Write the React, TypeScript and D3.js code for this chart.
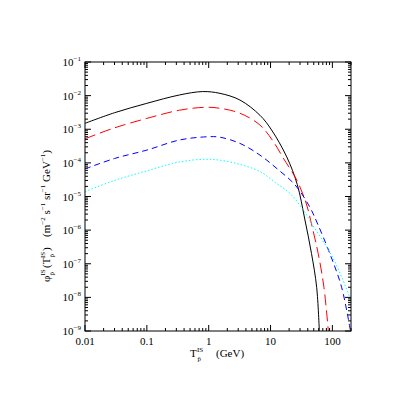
import React from "react";
import * as d3 from "d3";

// Energies (GeV) and flux values per curve
const blackE = [0.01, 0.03, 0.1, 0.34, 0.8, 1.52, 3.2, 6.75, 10.4, 18.3, 27, 36, 46, 55.7, 61.5];
const blackF = [1.5e-3, 3.1e-3, 5.9e-3, 1.05e-2, 1.32e-2, 1.17e-2, 7.4e-3, 2.6e-3, 9.5e-4, 1.5e-4, 2.3e-5, 2e-6, 2e-7, 2e-8, 1e-9];

const redE = [0.01, 0.03, 0.1, 0.34, 0.9, 1.52, 3.2, 6.75, 11.1, 16, 26.5, 38, 46, 59, 73, 86];
const redF = [5.2e-4, 1.1e-3, 2.1e-3, 3.7e-3, 4.5e-3, 4.2e-3, 3.0e-3, 1.33e-3, 4.3e-4, 1.4e-4, 3.1e-5, 6e-6, 1.5e-6, 2e-7, 2e-8, 1e-9];

const blueE = [0.01, 0.03, 0.1, 0.34, 1.0, 1.52, 3.2, 6.75, 13, 25, 43, 58, 91, 141, 196];
const blueF = [6.6e-5, 1.35e-4, 2.4e-4, 4.8e-4, 6e-4, 5.8e-4, 3.8e-4, 1.7e-4, 6.5e-5, 2.2e-5, 4.9e-6, 1.5e-6, 2e-7, 2e-8, 1e-9];

const cyanE = [0.01, 0.03, 0.1, 0.34, 0.9, 1.52, 3.2, 6.75, 12, 20.7, 33.8, 46, 100, 165, 200];
const cyanF = [1.4e-5, 3e-5, 5.8e-5, 1.07e-4, 1.28e-4, 1.2e-4, 9e-5, 5.5e-5, 2.6e-5, 1.23e-5, 4e-6, 1.6e-6, 1.6e-7, 2e-8, 8e-9];

const xTickVals = [0.01, 0.1, 1, 10, 100];
const xTickLabels = ["0.01", "0.1", "1", "10", "100"];
const yExps = [-9, -8, -7, -6, -5, -4, -3, -2, -1];

const W = 415, H = 415;
const L = 85, R = 351, T = 62, B = 331;
const FONT = "'Liberation Serif', 'Times New Roman', serif";

export default function App() {
  const x = d3.scaleLog().domain([0.01, 200]).range([L, R]);
  const y = d3.scaleLog().domain([1e-9, 1e-1]).range([B, T]);
  const line = d3
    .line<[number, number]>()
    .x((d) => x(d[0]))
    .y((d) => y(d[1]))
    .curve(d3.curveCatmullRom.alpha(0.5));

  const series = [
    { E: blackE, F: blackF, color: "#000", dash: "none" },
    { E: redE, F: redF, color: "#ff0000", dash: "11,5" },
    { E: blueE, F: blueF, color: "#0000ff", dash: "6,4" },
    { E: cyanE, F: cyanF, color: "#00ffff", dash: "1.5,2" },
  ];

  const xMinor: number[] = [];
  for (let e = -2; e <= 2; e++) {
    for (let m = 2; m <= 9; m++) {
      const v = m * Math.pow(10, e);
      if (v <= 200) xMinor.push(v);
    }
  }
  const yMinor: number[] = [];
  for (let e = -9; e < -1; e++) {
    for (let m = 2; m <= 9; m++) yMinor.push(m * Math.pow(10, e));
  }
  const maj = 6, min = 3;

  return (
    <div style={{ position: "absolute", left: 0, top: 0 }}>
      <svg width={W} height={H} style={{ display: "block", background: "#fff" }}>
        <defs>
          <clipPath id="plotclip">
            <rect x={L} y={T} width={R - L} height={B - T} />
          </clipPath>
        </defs>
        <g clipPath="url(#plotclip)">
          {series.map((s, i) => (
            <path
              key={i}
              d={line(s.E.map((e, j) => [e, s.F[j]] as [number, number])) || ""}
              fill="none"
              stroke={s.color}
              strokeWidth={1}
              strokeDasharray={s.dash}
            />
          ))}
        </g>
        <rect x={L} y={T} width={R - L} height={B - T} fill="none" stroke="#000" strokeWidth={1} />
        {xTickVals.map((v) => (
          <g key={"xt" + v}>
            <line x1={x(v)} x2={x(v)} y1={B} y2={B - maj} stroke="#000" />
            <line x1={x(v)} x2={x(v)} y1={T} y2={T + maj} stroke="#000" />
          </g>
        ))}
        {xMinor.map((v) => (
          <g key={"xm" + v}>
            <line x1={x(v)} x2={x(v)} y1={B} y2={B - min} stroke="#000" />
            <line x1={x(v)} x2={x(v)} y1={T} y2={T + min} stroke="#000" />
          </g>
        ))}
        {yExps.map((e) => (
          <g key={"yt" + e}>
            <line x1={L} x2={L + maj} y1={y(Math.pow(10, e))} y2={y(Math.pow(10, e))} stroke="#000" />
            <line x1={R} x2={R - maj} y1={y(Math.pow(10, e))} y2={y(Math.pow(10, e))} stroke="#000" />
          </g>
        ))}
        {yMinor.map((v) => (
          <g key={"ym" + v}>
            <line x1={L} x2={L + min} y1={y(v)} y2={y(v)} stroke="#000" />
            <line x1={R} x2={R - min} y1={y(v)} y2={y(v)} stroke="#000" />
          </g>
        ))}
        {xTickVals.map((v, i) => (
          <text key={"xl" + v} x={x(v)} y={B + 14} textAnchor="middle" fontFamily={FONT} fontSize={11} fill="#000">
            {xTickLabels[i]}
          </text>
        ))}
        {yExps.map((e) => (
          <text key={"yl" + e} x={L - 4} y={y(Math.pow(10, e)) + 4} textAnchor="end" fontFamily={FONT} fontSize={11} fill="#000">
            10
            <tspan fontSize={7} dy={-5}>{"\u2212" + Math.abs(e)}</tspan>
          </text>
        ))}
        <g fontFamily={FONT} fill="#000">
          <text x={190} y={357} fontSize={11}>T</text>
          <text x={197} y={352} fontSize={7}>IS</text>
          <text x={197.5} y={361} fontSize={7}>{"p\u0304"}</text>
          <text x={216} y={357} fontSize={11}>(GeV)</text>
        </g>
        <g fontFamily={FONT} fill="#000" transform="translate(50,282) rotate(-90)">
          <text x={0} y={0} fontSize={11}>{"\u03c6"}</text>
          <text x={6.5} y={-5} fontSize={7}>IS</text>
          <text x={6.5} y={4} fontSize={7}>{"p\u0304"}</text>
          <text x={14} y={0} fontSize={11}>(T</text>
          <text x={24} y={-5} fontSize={7}>IS</text>
          <text x={24.5} y={4} fontSize={7}>{"p\u0304"}</text>
          <text x={31} y={0} fontSize={11}>)</text>
          <text x={45} y={0} fontSize={11}>
            (m<tspan fontSize={7} dy={-5}>{"\u22122"}</tspan>
            <tspan dy={5}> s</tspan>
            <tspan fontSize={7} dy={-5}>{"\u22121"}</tspan>
            <tspan dy={5}> sr</tspan>
            <tspan fontSize={7} dy={-5}>{"\u22121"}</tspan>
            <tspan dy={5}> GeV</tspan>
            <tspan fontSize={7} dy={-5}>{"\u22121"}</tspan>
            <tspan dy={5}>)</tspan>
          </text>
        </g>
      </svg>
    </div>
  );
}
